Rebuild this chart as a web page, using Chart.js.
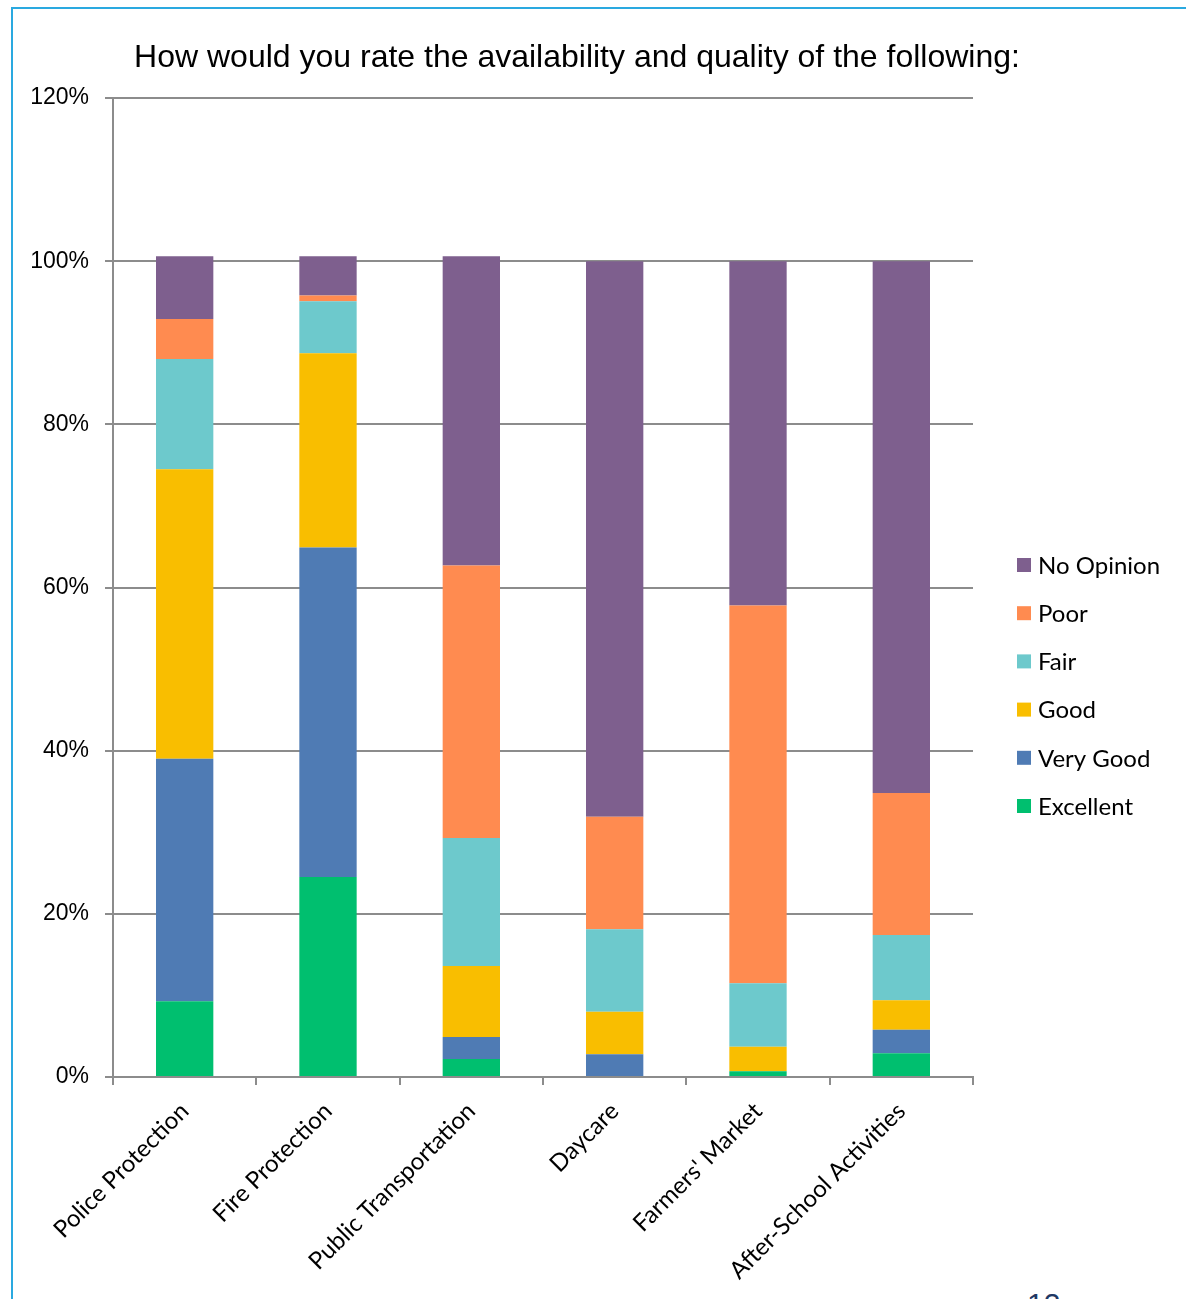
<!DOCTYPE html>
<html>
<head>
<meta charset="utf-8">
<script src="https://cdn.jsdelivr.net/npm/chart.js@4.4.1/dist/chart.umd.min.js"></script>
<style>
  html, body { margin: 0; padding: 0; background: #fff; overflow: hidden; }
  #wrap { position: relative; width: 1186px; height: 1299px; }
  #frame {
    position: absolute; left: 11px; top: 7px; width: 1200px; height: 1320px;
    border-left: 2px solid #2aa9e0; border-top: 2px solid #2aa9e0;
  }
  #pageNo {
    position: absolute; left: 1027px; top: 1287px;
    font: 30px "Liberation Sans", Arial, sans-serif; color: #1f3864;
  }
  canvas { position: absolute; left: 0; top: 0; }
</style>
</head>
<body>
<div id="wrap">
  <div id="frame"></div>
  <div id="pageNo">12</div>
  <canvas id="chart" width="1186" height="1299"></canvas>
</div>
<script>
// values in percent
const categories = ["Police Protection", "Fire Protection", "Public Transportation", "Daycare", "Farmers' Market", "After-School Activities"];
const excellent = [9.3, 24.5, 2.2, 0, 0.7, 2.9];
const veryGood  = [29.7, 40.4, 2.7, 2.8, 0, 2.9];
const good      = [35.5, 23.8, 8.7, 5.2, 3.0, 3.6];
const fair      = [13.5, 6.4, 15.7, 10.1, 7.8, 8.0];
const poor      = [4.9, 0.7, 33.4, 13.8, 46.3, 17.4];
const noOpinion = [7.7, 4.8, 37.9, 68.1, 42.2, 65.2];
const yTicks = [0, 20, 40, 60, 80, 100, 120];

const titleText = "How would you rate the availability and quality of the following:";

const series = [
  { label: "Excellent", data: excellent, color: "#00bf6f" },
  { label: "Very Good", data: veryGood, color: "#4f7bb4" },
  { label: "Good", data: good, color: "#f9be00" },
  { label: "Fair", data: fair, color: "#6dc9cc" },
  { label: "Poor", data: poor, color: "#ff8b50" },
  { label: "No Opinion", data: noOpinion, color: "#7e5f8e" },
];

// title + legend drawn by hand so they sit where the original has them
const decorPlugin = {
  id: "decor",
  afterDraw(chart) {
    const ctx = chart.ctx;
    ctx.save();
    ctx.fillStyle = "#000";
    ctx.font = '32px "Liberation Sans", Arial, sans-serif';
    ctx.textAlign = "center";
    ctx.textBaseline = "middle";
    ctx.fillText(titleText, 577, 58);

    ctx.font = '24px Lato, "Open Sans", sans-serif';
    ctx.textAlign = "left";
    const sets = chart.data.datasets.slice().reverse();
    sets.forEach((ds, i) => {
      const y = 565 + i * 48.2;
      ctx.fillStyle = ds.backgroundColor;
      ctx.fillRect(1017, y - 7, 14, 14);
      ctx.fillStyle = "#000";
      ctx.fillText(ds.label, 1038, y + 1);
    });
    ctx.restore();
  }
};

const gridGray = "#8c8c8c";

new Chart(document.getElementById("chart"), {
  type: "bar",
  data: {
    labels: categories,
    datasets: series.map(s => ({
      label: s.label,
      data: s.data,
      backgroundColor: s.color,
      borderWidth: 0,
      barPercentage: 0.4,
      categoryPercentage: 1.0,
    })),
  },
  options: {
    responsive: false,
    animation: false,
    layout: { padding: { left: 0, right: 213, top: 98, bottom: 0 } },
    plugins: {
      legend: { display: false },
      title: { display: false },
      tooltip: { enabled: false },
    },
    scales: {
      x: {
        stacked: true,
        grid: { display: true, drawOnChartArea: false, drawTicks: true, tickLength: 8, color: gridGray, lineWidth: 2, offset: true },
        border: { color: gridGray, width: 2 },
        ticks: {
          color: "#000",
          font: { family: 'Lato, "Open Sans", sans-serif', size: 24 },
          minRotation: 45,
          maxRotation: 45,
          padding: 12,
        },
        afterFit(scale) { scale.height = 222; },
      },
      y: {
        stacked: true,
        min: 0,
        max: 120,
        afterBuildTicks(scale) { scale.ticks = yTicks.map(v => ({ value: v })); },
        grid: { color: gridGray, lineWidth: 2, tickLength: 8 },
        border: { color: gridGray, width: 2 },
        ticks: {
          color: "#000",
          font: { family: '"Liberation Sans", Arial, sans-serif', size: 23 },
          padding: 16,
          callback: v => v + "%",
        },
        afterFit(scale) { scale.width = 113; },
      },
    },
  },
  plugins: [decorPlugin],
});
</script>
</body>
</html>
